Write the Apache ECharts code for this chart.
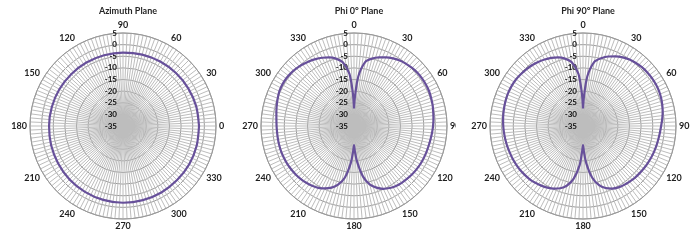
<!DOCTYPE html>
<html>

<head>
    <meta charset="utf-8">
    <script src="https://cdn.jsdelivr.net/npm/echarts@6/dist/echarts.min.js"></script>
    <style>
        body { margin: 0; background: #ffffff; }
        .plane { position: absolute; top: 0; height: 240px; overflow: hidden; }
    </style>
</head>

<body>
    <div class="plane" id="chart_azimuth" style="left: 0px; width: 231px;"></div>
    <div class="plane" id="chart_phi0" style="left: 231px; width: 225px;"></div>
    <div class="plane" id="chart_phi90" style="left: 456px; width: 244px;"></div>

    <script type="text/javascript">
        // angles in degrees, gain in dB
        var azimuthAngles = [0, 15, 30, 45, 60, 75, 90, 105, 120, 135, 150, 165, 180,
            195, 210, 225, 240, 255, 270, 285, 300, 315, 330, 345, 360];
        var azimuthGain = [-2.3, -2.4, -2.6, -2.8, -3.0, -3.2, -3.4, -3.5, -3.5, -3.5, -3.4, -3.3, -3.2,
            -3.0, -2.8, -2.5, -2.3, -2.1, -2.0, -2.0, -2.0, -2.1, -2.1, -2.2, -2.3];

        var phiAngles = [0, 2, 5, 10, 15, 20, 25, 30, 35, 40, 45, 50, 55, 60, 65, 70, 75, 80, 85, 90,
            95, 100, 105, 110, 115, 120, 125, 130, 135, 140, 145, 150, 155, 160, 165, 170, 175, 178,
            180,
            182, 185, 190, 195, 200, 205, 210, 215, 220, 225, 230, 235, 240, 245, 250, 255, 260, 265, 270, 275,
            280, 285, 290, 295, 300, 305, 310, 315, 320, 325, 330, 335, 340, 345, 350, 355, 358, 360];
        var phi0Gain = [-27.4, -22, -13.5, -7.0, -5.0, -3.6, -2.4, -1.4, -0.6, -0.1, 0.3, 0.6, 0.7, 0.7, 0.6, 0.3, 0.0, -0.4, -0.7, -1.0,
            -1.3, -1.6, -1.8, -1.9, -2.0, -2.1, -2.3, -2.5, -2.8, -3.1, -3.5, -4.2, -5.2, -6.8, -9.0, -13, -19.5, -24,
            -26.8,
            -24, -19, -12.5, -9.0, -6.8, -5.4, -4.3, -3.6, -3.1, -2.7, -2.4, -2.2, -2.0, -1.9, -1.8, -1.8, -1.8, -1.8, -1.7, -1.5,
            -1.1, -0.6, -0.1, 0.4, 0.6, 0.6, 0.4, 0.0, -0.5, -1.1, -1.8, -2.6, -3.6, -5.0, -7.2, -12.5, -21, -27.4];
        var phi90Gain = [-27.4, -22, -13.5, -7.0, -4.8, -3.2, -2.0, -0.9, -0.1, 0.4, 0.8, 1.0, 1.1, 1.1, 1.0, 0.7, 0.3, -0.2, -0.8, -1.4,
            -1.8, -2.1, -2.3, -2.5, -2.7, -2.9, -3.1, -3.3, -3.5, -3.8, -4.1, -4.5, -5.3, -6.6, -8.8, -12.5, -19, -24,
            -26.8,
            -24, -18, -12, -8.5, -6.5, -5.3, -4.4, -3.7, -3.1, -2.6, -2.3, -2.0, -1.8, -1.6, -1.5, -1.3, -1.1, -0.9, -0.7, -0.5,
            -0.3, -0.1, 0.1, 0.2, 0.2, 0.1, -0.2, -0.5, -0.9, -1.4, -2.0, -2.7, -3.6, -5.0, -7.2, -12.5, -21, -27.4];

        var labelFont = 'Lato, "Open Sans", sans-serif';

        function pairs(angles, gain, shift) {
            var out = [];
            for (var i = 0; i < angles.length; i++) {
                out.push([gain[i], (angles[i] + shift + 360) % 360]);
            }
            return out;
        }

        // one Excel-like radar per div
        function planeOption(title, data, clockwise, labelShift, cx) {
            return {
                animation: false,
                backgroundColor: '#ffffff',
                title: {
                    text: title,
                    left: cx,
                    top: 2,
                    textAlign: 'center',
                    textStyle: { fontFamily: labelFont, fontSize: 9, fontWeight: 'bold', color: '#262626' }
                },
                polar: { center: [cx, 126], radius: 93 },
                angleAxis: {
                    type: 'value',
                    min: 0,
                    max: 360,
                    interval: 30,
                    startAngle: 90,
                    clockwise: clockwise,
                    axisLine: { lineStyle: { color: '#9a9a9a', width: 1 } },
                    axisTick: { show: false },
                    minorTick: { show: false, splitNumber: 12 },
                    splitLine: { lineStyle: { color: '#bdbdbd', width: 1 } },
                    minorSplitLine: { show: true, lineStyle: { color: '#bdbdbd', width: 1 } },
                    axisLabel: {
                        margin: 3,
                        fontFamily: labelFont,
                        fontSize: 9,
                        fontWeight: 'bold',
                        color: '#1f1f1f',
                        formatter: function (v) { return String((v + labelShift) % 360); }
                    }
                },
                radiusAxis: {
                    type: 'value',
                    min: -35,
                    max: 5,
                    interval: 5,
                    axisLine: { show: false },
                    axisTick: { show: false },
                    splitLine: { lineStyle: { color: '#9a9a9a', width: 1 } },
                    axisLabel: {
                        margin: 6,
                        fontFamily: labelFont,
                        fontSize: 8,
                        fontWeight: 'bold',
                        color: '#111111'
                    }
                },
                series: [{
                    type: 'line',
                    coordinateSystem: 'polar',
                    data: data,
                    showSymbol: false,
                    smooth: 0.3,
                    lineStyle: { color: '#67509a', width: 2.2 }
                }]
            };
        }

        var myChart_azimuth = echarts.init(document.getElementById('chart_azimuth'));
        myChart_azimuth.setOption(planeOption('Azimuth Plane', pairs(azimuthAngles, azimuthGain, -90), false, 90, 123));

        var myChart_phi0 = echarts.init(document.getElementById('chart_phi0'));
        myChart_phi0.setOption(planeOption('Phi 0° Plane', pairs(phiAngles, phi0Gain, 0), true, 0, 123));

        var myChart_phi90 = echarts.init(document.getElementById('chart_phi90'));
        myChart_phi90.setOption(planeOption('Phi 90° Plane', pairs(phiAngles, phi90Gain, 0), true, 0, 127));
    </script>
</body>

</html>
